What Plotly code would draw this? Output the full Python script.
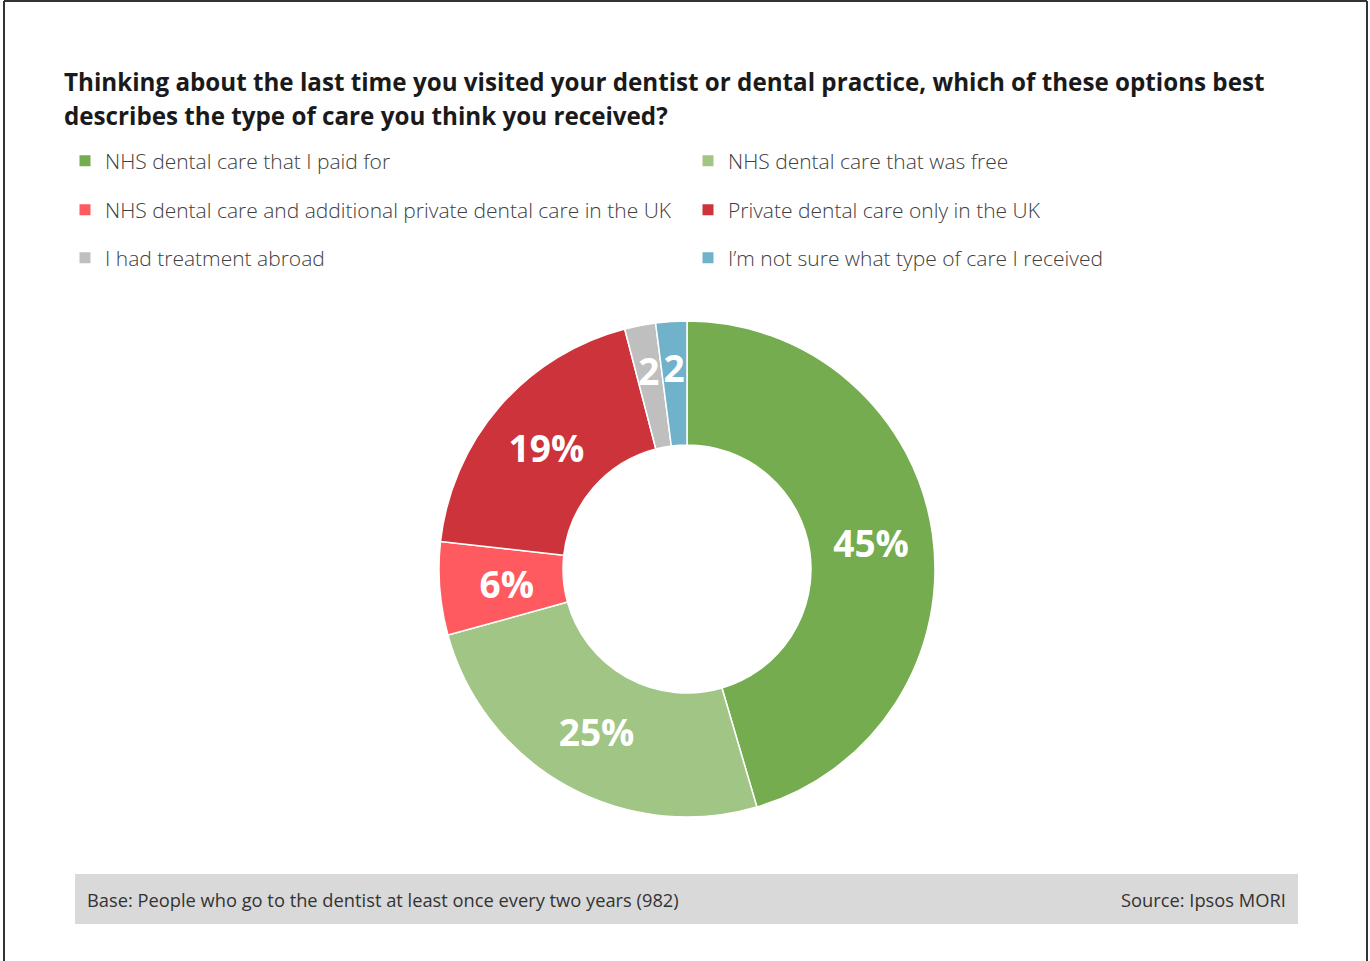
import plotly.graph_objects as go

# Survey responses (percent)
categories = [
    "NHS dental care that I paid for",
    "NHS dental care that was free",
    "NHS dental care and additional private dental care in the UK",
    "Private dental care only in the UK",
    "I had treatment abroad",
    "I\u2019m not sure what type of care I received",
]
shares = [45, 25, 6, 19, 2, 2]
slice_labels = ["45%", "25%", "6%", "19%", "2", "2"]
colors = ["#75AC4F", "#A0C585", "#FF5A5F", "#CC333B", "#BFBFBF", "#70B2CA"]

# Labels on thin slices are set on an inner, transparent ring so they sit mid-band
thin = [s < 10 for s in shares]

W, H = 1370, 961
CX, CY, R_OUT, R_IN = 687, 569, 248, 124
R_LABEL = 215


def px_x(x):
    return x / W


def px_y(y):
    return 1 - y / H


def ring_domain(r):
    return dict(x=[px_x(CX - r), px_x(CX + r)], y=[px_y(CY + r), px_y(CY - r)])


label_font = dict(family="Open Sans", size=37, color="white", weight="bold")

fig = go.Figure()

fig.add_trace(go.Pie(
    labels=categories,
    values=shares,
    text=["" if t else s for s, t in zip(slice_labels, thin)],
    textinfo="text",
    textposition="inside",
    insidetextorientation="horizontal",
    textfont=label_font,
    marker=dict(colors=colors, line=dict(color="white", width=1.5)),
    hole=R_IN / R_OUT,
    sort=False,
    direction="clockwise",
    rotation=0,
    showlegend=False,
    domain=ring_domain(R_OUT),
))

fig.add_trace(go.Pie(
    labels=categories,
    values=shares,
    text=[s if t else "" for s, t in zip(slice_labels, thin)],
    textinfo="text",
    textposition="inside",
    insidetextorientation="horizontal",
    textfont=label_font,
    marker=dict(colors=["rgba(0,0,0,0)"] * len(shares), line=dict(width=0)),
    hole=R_IN / R_LABEL,
    sort=False,
    direction="clockwise",
    rotation=0,
    showlegend=False,
    hoverinfo="skip",
    domain=ring_domain(R_LABEL),
))

# Legend: two columns, three rows; each entry in its own legend box
col_x = [65, 688]
row_y = [161, 210, 258]
layout_legends = {}
for i, name in enumerate(categories):
    key = "legend" if i == 0 else f"legend{i + 1}"
    fig.add_trace(go.Scatter(
        x=[None], y=[None], mode="markers", name=name,
        marker=dict(symbol="square", size=11, color=colors[i]),
        legend=key, showlegend=True, hoverinfo="skip",
    ))
    layout_legends[key] = dict(
        x=px_x(col_x[i % 2]), y=px_y(row_y[i // 2]),
        xanchor="left", yanchor="middle",
        bgcolor="rgba(0,0,0,0)", borderwidth=0,
        font=dict(family="Open Sans", size=21, color="#404040", weight=300),
        itemsizing="trace",
    )

title_lines = [
    "Thinking about the last time you visited your dentist or dental practice, which of these options best",
    "describes the type of care you think you received?",
]
for line, y in zip(title_lines, [82, 116]):
    fig.add_annotation(
        text=line, xref="paper", yref="paper", x=px_x(62), y=px_y(y),
        xanchor="left", yanchor="middle", align="left", showarrow=False,
        font=dict(family="Open Sans", size=24.2, color="#1A1A1A", weight="bold"),
    )

# Footer band
fig.add_shape(type="rect", xref="paper", yref="paper",
              x0=px_x(75), x1=px_x(1298), y0=px_y(924), y1=px_y(874),
              fillcolor="#D9D9D9", line=dict(width=0), layer="below")
fig.add_annotation(
    text="Base: People who go to the dentist at least once every two years (982)",
    xref="paper", yref="paper", x=px_x(85), y=px_y(899),
    xanchor="left", yanchor="middle", showarrow=False,
    font=dict(family="Open Sans", size=18.3, color="#333333"),
)
fig.add_annotation(
    text="Source: Ipsos MORI",
    xref="paper", yref="paper", x=px_x(1288), y=px_y(899),
    xanchor="right", yanchor="middle", showarrow=False,
    font=dict(family="Open Sans", size=18.3, color="#333333"),
)

# Frame
frame = dict(color="#333333", width=2)
fig.add_shape(type="line", xref="paper", yref="paper",
              x0=px_x(4), x1=px_x(4), y0=0, y1=px_y(1), line=frame)
fig.add_shape(type="line", xref="paper", yref="paper",
              x0=px_x(4), x1=px_x(1367), y0=px_y(1), y1=px_y(1), line=frame)
fig.add_shape(type="line", xref="paper", yref="paper",
              x0=px_x(1367), x1=px_x(1367), y0=px_y(1), y1=0, line=frame)

fig.update_layout(
    width=W, height=H,
    margin=dict(l=0, r=0, t=0, b=0),
    paper_bgcolor="white", plot_bgcolor="white",
    xaxis=dict(visible=False), yaxis=dict(visible=False),
    uniformtext=dict(minsize=37, mode="show"),
    **layout_legends,
)

fig.write_html("out.html")
